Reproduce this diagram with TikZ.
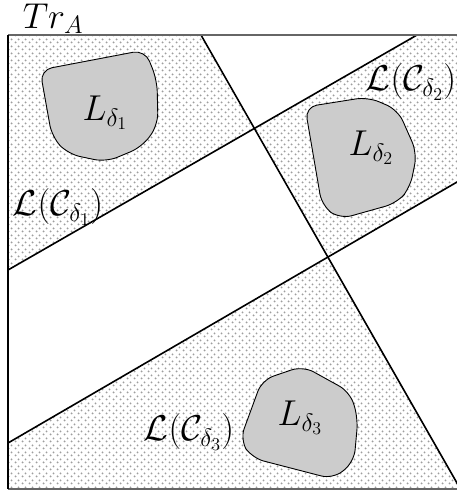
\RequirePackage{fix-cm}
\documentclass[tikz,border=0pt]{standalone}
\usepackage{amsmath}
\usepackage{graphicx}
\usetikzlibrary{patterns}
\pgfdeclarepatternformonly{mydots}{\pgfqpoint{0pt}{0pt}}{\pgfqpoint{7pt}{7pt}}{\pgfqpoint{7pt}{7pt}}{%
  \pgfpathcircle{\pgfqpoint{1.75pt}{1.75pt}}{1.15pt}%
  \pgfpathcircle{\pgfqpoint{5.25pt}{5.25pt}}{1.15pt}%
  \pgfusepath{fill}}
\newcommand{\biglbl}[1]{\scalebox{1.24}{#1}}
\begin{document}
\begin{tikzpicture}[x=1pt,y=-1pt,
  dotted region/.style={pattern=mydots, pattern color=black!38},
  cutline/.style={line width=1.6pt, black},
  blob/.style={fill=black!20, draw=black, line width=0.9pt, rounded corners=12pt},
  lbl/.style={font=\fontsize{29}{35}\selectfont, inner sep=0pt}]
\useasboundingbox (0,0) rectangle (457,492);
\clip (0,0) rectangle (457,492);
% line end points
\coordinate (t1) at (201,35);
\coordinate (b1) at (460.4,489);
\coordinate (l2) at (8,270);
\coordinate (t2) at (417,35);
\coordinate (l4) at (8,443);
\coordinate (r4) at (460,180.3);
\coordinate (p) at (intersection of t1--b1 and l2--t2);
\coordinate (q) at (intersection of t1--b1 and l4--r4);
% dotted regions
\fill[dotted region] (8,35) -- (t1) -- (p) -- (l2) -- cycle;
\fill[dotted region] (p) -- (t2) -- (460,35) -- (r4) -- (q) -- cycle;
\fill[dotted region] (l4) -- (q) -- (b1) -- (8,489) -- cycle;
% lines
\draw[cutline] (t1) -- (b1);
\draw[cutline] (l2) -- (t2);
\draw[cutline] (l4) -- (r4);
% border
\draw[line width=1.5pt, black!60] (460,35) -- (8,35);
\draw[line width=1.5pt, black!60] (8,489) -- (460,489);
\draw[line width=1.3pt, black] (8,35) -- (8,489);
% blobs
\draw[blob] (40,70) -- (145,50) -- (157,80) -- (158,125) -- (142,147) -- (106,162) -- (68,154) -- (52,137) -- cycle;
\draw[blob] (305,107) -- (368,97) -- (398,110) -- (417,153) -- (410,188) -- (397,203) -- (340,219) -- (322,206) -- cycle;
\draw[blob] (303,366) -- (262,380) -- (240,440) -- (252,458) -- (333,479) -- (354,462) -- (358,418) -- (350,392) -- cycle;
% labels
\node[lbl] (tra) at (53,19) {\biglbl{$Tr_A$}};
\node[lbl] (ld1) at (105,113) {\biglbl{$L_{\delta_1}$}};
\node[lbl] (ld2) at (371,148) {\biglbl{$L_{\delta_2}$}};
\node[lbl] (ld3) at (300,418) {\biglbl{$L_{\delta_3}$}};
\node[lbl] (lc1) at (58,207) {\biglbl{$\mathcal{L}(\mathcal{C}_{\delta_1})$}};
\node[lbl] (lc2) at (411,82) {\biglbl{$\mathcal{L}(\mathcal{C}_{\delta_2})$}};
\node[lbl] (lc3) at (189,432) {\biglbl{$\mathcal{L}(\mathcal{C}_{\delta_3})$}};
\end{tikzpicture}
\end{document}
